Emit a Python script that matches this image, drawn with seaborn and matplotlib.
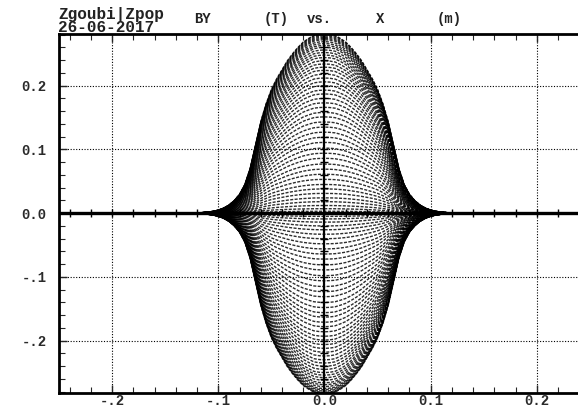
import numpy as np
import pandas as pd
import matplotlib
matplotlib.use("Agg")
import matplotlib.pyplot as plt
import seaborn as sns

# Longitudinal field profile (normalised), sampled every 5 mm from the
# magnet centre outwards; the field is symmetric about X = 0.
half_x = [0.000, 0.005, 0.010, 0.015, 0.020, 0.025, 0.030, 0.035, 0.040,
          0.045, 0.050, 0.055, 0.060, 0.065, 0.070, 0.075, 0.080, 0.085,
          0.090, 0.095, 0.100, 0.105, 0.110, 0.115, 0.120, 0.125, 0.130,
          0.150, 0.200, 0.250]
half_profile = [1.000, 0.998, 0.992, 0.975, 0.955, 0.925, 0.890, 0.850, 0.800,
                0.750, 0.690, 0.610, 0.510, 0.380, 0.250, 0.160, 0.105, 0.070,
                0.045, 0.028, 0.017, 0.010, 0.006, 0.003, 0.0015, 0.0005, 0.0,
                0.0, 0.0, 0.0]

# Peak BY (T) seen by each tracked particle
peak_by = [0.281, 0.280, 0.278, 0.276, 0.274, 0.272, 0.269, 0.266, 0.263,
           0.260, 0.256, 0.252, 0.248, 0.244, 0.239, 0.234, 0.229, 0.224,
           0.218, 0.212, 0.206, 0.200, 0.193, 0.187, 0.180, 0.173, 0.166,
           0.158, 0.151, 0.143, 0.135, 0.127, 0.119, 0.111, 0.102, 0.094,
           0.086, 0.077, 0.069, 0.061, 0.053, 0.045, 0.038, 0.031, 0.024,
           0.018, 0.012, 0.007, 0.003,
           -0.002, -0.005, -0.009, -0.014, -0.020, -0.026, -0.033, -0.040,
           -0.048, -0.056, -0.064, -0.072, -0.081, -0.089, -0.098, -0.106,
           -0.115, -0.123, -0.131, -0.140, -0.148, -0.156, -0.163, -0.171,
           -0.178, -0.186, -0.193, -0.199, -0.206, -0.212, -0.218, -0.224,
           -0.230, -0.235, -0.240, -0.245, -0.250, -0.254, -0.258, -0.262,
           -0.266, -0.269, -0.272, -0.275, -0.277, -0.279, -0.281, -0.282,
           -0.283]

x_ticks = [-0.2, -0.1, 0.0, 0.1, 0.2]
x_tick_labels = ["-.2", "-.1", "0.0", "0.1", "0.2"]
y_ticks = [-0.2, -0.1, 0.0, 0.1, 0.2]
y_tick_labels = ["-.2", "-.1", "0.0", "0.1", "0.2"]

# Full symmetric profile
hx = np.array(half_x)
hp = np.array(half_profile)
xs = np.concatenate([-hx[::-1], hx[1:]])
prof = np.concatenate([hp[::-1], hp[1:]])

rows = []
for i, b in enumerate(peak_by):
    rows.append(pd.DataFrame({"X": xs, "BY": b * prof, "particle": i}))
df = pd.concat(rows, ignore_index=True)

sns.set_style("white")
mono = ["Liberation Mono", "DejaVu Sans Mono"]
plt.rcParams["font.family"] = mono

fig = plt.figure(figsize=(5.78, 4.11), dpi=100)
ax = fig.add_axes([59 / 578, 18 / 411, 531 / 578, 359 / 411])

sns.lineplot(data=df, x="X", y="BY", units="particle", estimator=None,
             sort=False, color="black", linewidth=1.0, alpha=0.82,
             ax=ax, legend=False)
# dotted trajectory look, with staggered dash phases
for k, ln in enumerate(ax.get_lines()):
    ln.set_linestyle((k * 0.7 % 3.2, (2.2, 1.0)))

ax.set_xlim(-0.25, 0.25)
ax.set_ylim(-0.282, 0.281)

# axes through the origin, with their own small ticks
ax.axhline(0, color="black", lw=2.4, zorder=5)
ax.axvline(0, color="black", lw=1.6, zorder=5)
minor_x = np.arange(-0.24, 0.2401, 0.02)
minor_y = np.arange(-0.26, 0.2601, 0.02)
ax.plot(minor_x, np.zeros_like(minor_x), ls="none", marker="|", ms=6,
        mew=1.0, color="black", zorder=6)
ax.plot(np.zeros_like(minor_y), minor_y, ls="none", marker="_", ms=6,
        mew=1.0, color="black", zorder=6)

ax.set_xticks(x_ticks)
ax.set_xticklabels(x_tick_labels)
ax.set_yticks(y_ticks)
ax.set_yticklabels(y_tick_labels)
ax.set_xticks(np.arange(-0.24, 0.2401, 0.02), minor=True)
ax.set_yticks(np.arange(-0.28, 0.2801, 0.02), minor=True)
ax.tick_params(which="major", direction="in", length=6, width=1.0,
               top=True, bottom=True, left=True, right=False,
               labelsize=10, pad=1)
ax.tick_params(which="minor", direction="in", length=4, width=0.8,
               top=True, bottom=True, left=True, right=False)
ax.tick_params(axis="y", which="major", pad=9)
for lab in ax.get_xticklabels() + ax.get_yticklabels():
    lab.set_fontweight("bold")
    lab.set_color("#2a2a2a")

ax.grid(True, which="major", color="black", linestyle=(0, (1, 1.5)),
        linewidth=0.8)
for side in ["left", "bottom", "top"]:
    ax.spines[side].set_linewidth(2.0)
    ax.spines[side].set_color("black")
ax.spines["right"].set_visible(False)
ax.set_xlabel("")
ax.set_ylabel("")

# header text
fig.text(58 / 578, 1 - 32 / 411, "Zgoubi|Zpop\n26-06-2017", fontsize=11.5,
         fontweight="bold", color="#222222", family=mono,
         linespacing=0.85, va="baseline")
for s, xpx in [("BY", 194), ("(T)", 264), ("vs.", 307), ("X", 376), ("(m)", 437)]:
    fig.text(xpx / 578, 1 - 23 / 411, s, fontsize=10, fontweight="bold",
             color="#222222", family=mono)

fig.savefig("out.png", dpi=100)
